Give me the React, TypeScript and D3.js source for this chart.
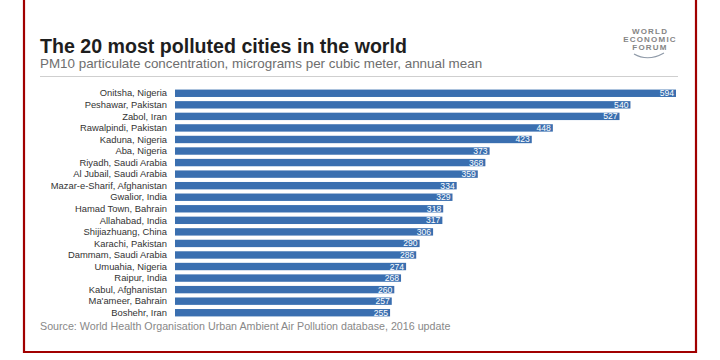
import React from "react";
import * as d3 from "d3";

const cities = [
  "Onitsha, Nigeria",
  "Peshawar, Pakistan",
  "Zabol, Iran",
  "Rawalpindi, Pakistan",
  "Kaduna, Nigeria",
  "Aba, Nigeria",
  "Riyadh, Saudi Arabia",
  "Al Jubail, Saudi Arabia",
  "Mazar-e-Sharif, Afghanistan",
  "Gwalior, India",
  "Hamad Town, Bahrain",
  "Allahabad, India",
  "Shijiazhuang, China",
  "Karachi, Pakistan",
  "Dammam, Saudi Arabia",
  "Umuahia, Nigeria",
  "Raipur, India",
  "Kabul, Afghanistan",
  "Ma'ameer, Bahrain",
  "Boshehr, Iran",
];
const pm10 = [594, 540, 527, 448, 423, 373, 368, 359, 334, 329, 318, 317, 306, 290, 286, 274, 268, 260, 257, 255];

const font = "'Liberation Sans', Arial, sans-serif";

export default function App() {
  const x = d3.scaleLinear().domain([0, 594]).range([175, 676]);
  const y = d3.scaleBand<string>().domain(cities).range([87.5, 318.5]).paddingInner(0.36).paddingOuter(0.18);

  return (
    <svg
      width={720}
      height={360}
      style={{ position: "absolute", left: 0, top: 0, background: "#fff" }}
      fontFamily={font}
    >
      <rect x={0} y={0} width={720} height={360} fill="#fff" />
      {/* frame */}
      <path d="M24,0 V352 H696 V0" fill="none" stroke="#a10000" strokeWidth={2.2} />

      <text x={40} y={52.5} fontSize={19.6} fill="#1e1e1e" fontWeight="bold">
        The 20 most polluted cities in the world
      </text>
      <text x={40} y={67.5} fontSize={13.4} fill="#6e6e6e">
        PM10 particulate concentration, micrograms per cubic meter, annual mean
      </text>
      <line x1={40} x2={678} y1={76.5} y2={76.5} stroke="#cfcfcf" strokeWidth={1} />

      {/* logo */}
      <g fill="#858585" fontSize={8} textAnchor="middle" letterSpacing={1.2} fontWeight="bold">
        <text x={650} y={34}>WORLD</text>
        <text x={650} y={42}>ECONOMIC</text>
        <text x={650} y={50}>FORUM</text>
      </g>
      <path d="M634,54 Q648,62 664,53" fill="none" stroke="#8f9aa8" strokeWidth={1.1} />

      {cities.map((c, i) => {
        const yy = y(c)!;
        const cy = yy + y.bandwidth() / 2;
        return (
          <g key={c}>
            <text x={167} y={cy + 3.2} fontSize={9.4} fill="#333" textAnchor="end">
              {c}
            </text>
            <rect x={x(0)} y={yy} width={x(pm10[i]) - x(0)} height={y.bandwidth()} fill="#3a6fb0" />
            <text x={x(pm10[i]) - 2} y={cy + 3} fontSize={8.6} fill="#fff" textAnchor="end">
              {pm10[i]}
            </text>
          </g>
        );
      })}

      <text x={40} y={330} fontSize={10.7} fill="#888">
        Source: World Health Organisation Urban Ambient Air Pollution database, 2016 update
      </text>
    </svg>
  );
}
